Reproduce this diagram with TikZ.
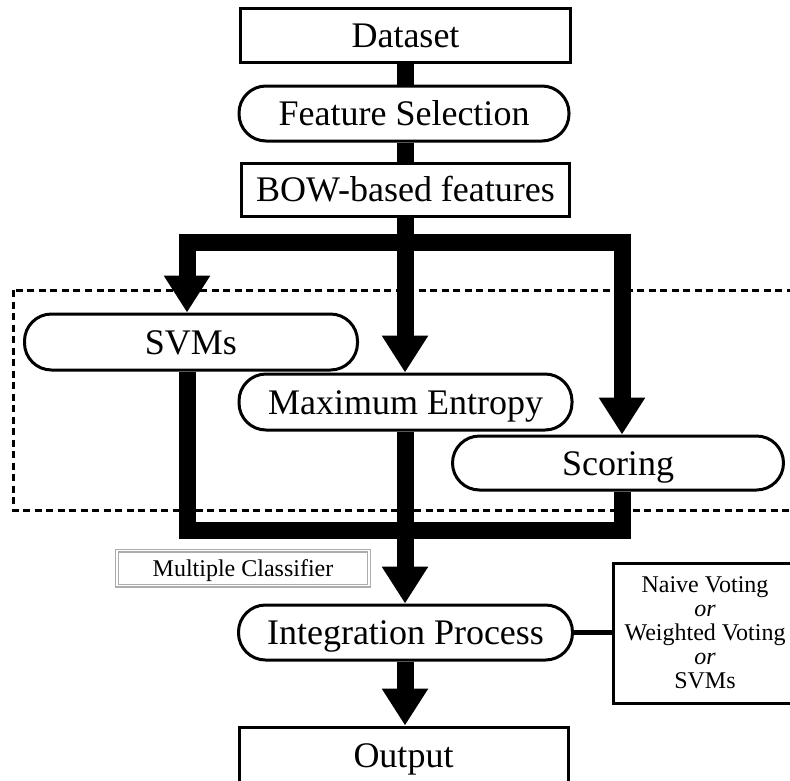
\documentclass[tikz,border=0pt]{standalone}
\usepackage{fontspec}
\setmainfont{Liberation Serif}
\usetikzlibrary{arrows.meta}
\tikzset{
  box/.style={draw, line width=3pt, fill=white, inner sep=0pt,
    font=\fontsize{36}{40}\selectfont, text height=24pt, text depth=0pt},
  pill/.style={box, rounded corners=27pt},
  trunk/.style={line width=17pt},
  arr/.style={-{Triangle[width=44pt,length=37pt]}},
  arr2/.style={{Triangle[width=44pt,length=37pt]}-{Triangle[width=44pt,length=37pt]}},
  regionbox/.style={line width=3pt, dash pattern=on 7pt off 4.5pt},
  smallbox/.style={draw=gray!65, double=white, double distance=1.6pt, line width=1.2pt,
    fill=white, inner sep=0pt, font=\fontsize{24}{26}\selectfont, text height=16pt, text depth=0pt},
  notebox/.style={draw, line width=3pt, fill=white, inner sep=0pt},
  notetext/.style={inner sep=0pt, align=center, font=\fontsize{24}{24}\selectfont}
}
\begin{document}
\begin{tikzpicture}[x=1pt,y=-1pt]
\fill[white] (0,0) rectangle (790,780);
\useasboundingbox (0,0) rectangle (790,780);

% dashed region
\draw[regionbox] (13,290) rectangle (810,510);

% nodes
\node[box, minimum width=330pt, minimum height=54pt] (data) at (405.5,35) {Dataset};
\node[pill, minimum width=330pt, minimum height=55pt] (fs) at (404,113.5) {Feature Selection};
\node[box, minimum width=328pt, minimum height=53pt] (bow) at (405.5,189.5) {BOW-based features};

\node[pill, minimum width=333pt, minimum height=56pt] (svm) at (191,342) {SVMs};
\node[pill, minimum width=333pt, minimum height=56pt] (ment) at (405.5,402) {Maximum Entropy};
\node[pill, minimum width=331pt, minimum height=54pt] (score) at (618,463) {Scoring};

\node[smallbox, minimum width=252pt, minimum height=35pt] (mc) at (243,568) {Multiple Classifier};

\node[pill, minimum width=334pt, minimum height=55pt] (integ) at (405.5,632.5) {Integration Process};
\node[box, minimum width=329pt, minimum height=56pt] (out) at (403.5,755) {Output};

\node[notebox, minimum width=210pt, minimum height=140pt] (vote) at (718,633) {};
\node[notetext] (votetxt) at (705,633)
  {Naive Voting\\\textit{or}\\Weighted Voting\\\textit{or}\\SVMs};

% helper coordinates
\coordinate (colL) at (187,0);
\coordinate (colR) at (622,0);
\coordinate (jt) at (405,242);
\coordinate (jb) at (405,530);

% connectors
\draw[trunk] (data.south -| jt) -- (fs.north -| jt);
\draw[trunk] (fs.south -| jt) -- (bow.north -| jt);
\draw[trunk] (bow.south -| jt) -- (jt);
\draw[trunk, arr2] (svm.north -| colL) |- (jt) -| (score.north -| colR);
\draw[trunk, arr] (jt) -- (ment.north -| jt);

\draw[trunk] (svm.south -| colL) |- (jb) -| (score.south -| colR);
\draw[trunk, arr] (ment.south -| jt) -- (integ.north -| jt);
\draw[trunk, arr] (integ.south -| jt) -- (out.north -| jt);

\draw[line width=5pt] (integ.east) -- (integ.east -| vote.west);
\end{tikzpicture}
\end{document}
